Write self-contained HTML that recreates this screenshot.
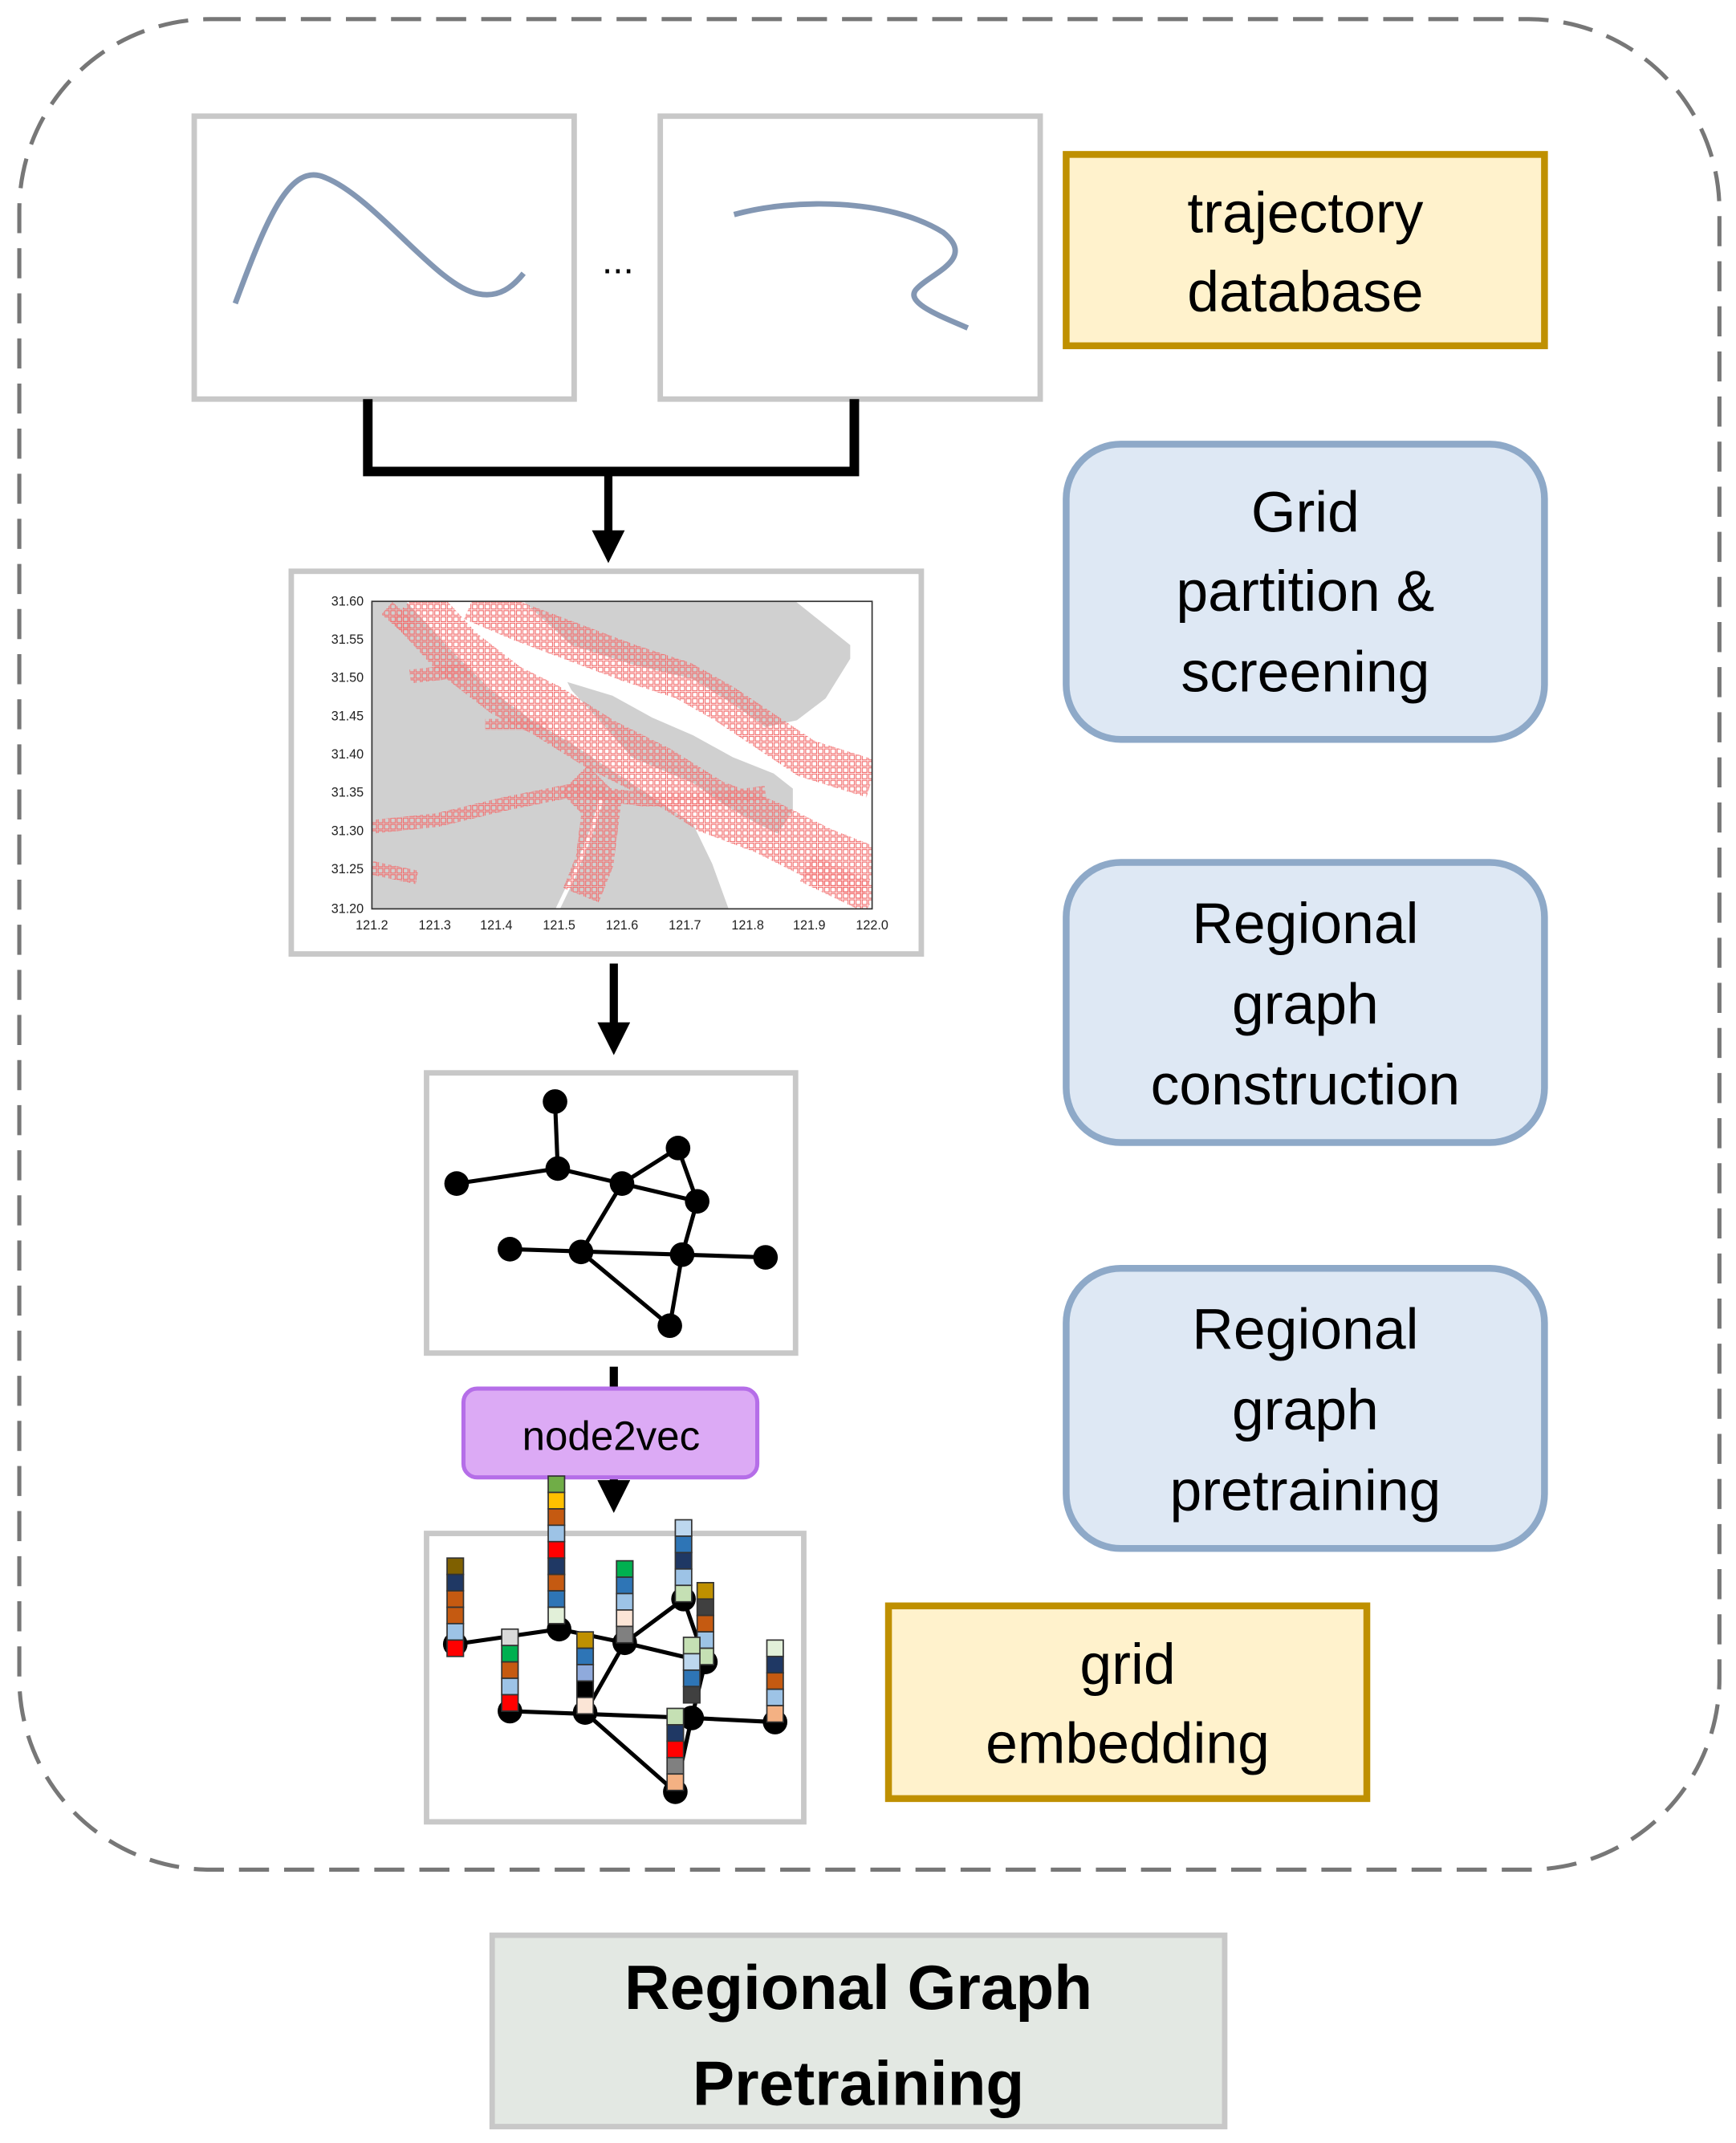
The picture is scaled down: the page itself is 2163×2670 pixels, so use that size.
<!DOCTYPE html>
<html><head><meta charset="utf-8"><style>html,body{margin:0;padding:0;background:#fff}svg{display:block}</style></head><body>
<svg width="2163" height="2670" viewBox="0 0 1270 1568" xmlns="http://www.w3.org/2000/svg" font-family="Liberation Sans, sans-serif">
<defs>
<pattern id="g" width="4.6" height="4.6" patternUnits="userSpaceOnUse"><rect x="0.6" y="0.6" width="3.4" height="3.4" fill="none" stroke="#f27070" stroke-width="0.7"/></pattern>
<marker id="ah" viewBox="0 0 10 10" refX="5" refY="5" markerWidth="4" markerHeight="4" orient="auto"><path d="M0,0 L10,5 L0,10z" fill="#000"/></marker>
<clipPath id="ax"><rect x="272" y="440" width="366" height="225"/></clipPath>
</defs>
<rect x="14" y="14" width="1244" height="1354" rx="140" fill="none" stroke="#777" stroke-width="3" stroke-dasharray="22 11"/>
<rect x="142" y="85" width="278" height="207" fill="#fff" stroke="#c8c8c8" stroke-width="4"/>
<path d="M172,222 C195,160 212,118 238,130 C275,145 320,210 350,215 C365,218 375,210 383,200" fill="none" stroke="#8397b3" stroke-width="4"/>
<text x="452" y="200" font-size="28" text-anchor="middle">...</text>
<rect x="483" y="85" width="278" height="207" fill="#fff" stroke="#c8c8c8" stroke-width="4"/>
<path d="M537,157 C580,145 650,145 690,170 C715,190 680,200 670,212 C662,222 690,232 708,240" fill="none" stroke="#8397b3" stroke-width="4"/>
<rect x="780" y="113" width="350" height="140" fill="#fff2cc" stroke="#bf9000" stroke-width="5"/>
<text x="955" y="170" font-size="42" text-anchor="middle">trajectory</text>
<text x="955" y="228" font-size="42" text-anchor="middle">database</text>
<path d="M269,292 V345 H625 V292" fill="none" stroke="#000" stroke-width="7"/>
<line x1="445" y1="345" x2="445" y2="400" stroke="#000" stroke-width="6" marker-end="url(#ah)"/>
<rect x="213" y="418" width="461" height="280" fill="#fff" stroke="#c8c8c8" stroke-width="4"/>
<g>
<rect x="272" y="440" width="366" height="225" fill="#fff"/>
<g clip-path="url(#ax)">
<polygon points="272,440 297,440 330,476 359,505 389,527 418,544 448,564 477,583 507,603 521,632 533,665 272,665" fill="#d0d0d0"/>
<polygon points="383,440 582,440 622,472 622,482 604,511 583,527 560,532 536,515 507,497 462,486 418,472" fill="#d0d0d0"/>
<polygon points="415,499 448,509 477,525 507,538 536,554 566,566 580,577 580,593 569,610 551,601 530,589 507,573 462,554 442,531 418,505" fill="#d0d0d0"/>
<polyline points="408,665 420,640 432,610 440,585" fill="none" stroke="#fff" stroke-width="3"/>
<g fill="none" stroke="url(#g)" stroke-linecap="butt">
<polyline points="300,440 335,478 370,505 400,520 440,545 480,565 520,590 560,605 600,625 638,640" stroke-width="40"/>
<polyline points="345,440 380,455 420,470 460,485 500,498 530,515 560,535 590,555 638,570" stroke-width="28"/>
<polyline points="272,605 320,600 370,588 420,578 470,585 520,585 560,580" stroke-width="10"/>
<polyline points="420,570 440,590 435,630 425,655" stroke-width="28"/>
<polyline points="272,635 305,642" stroke-width="10"/>
<polyline points="283,445 300,460" stroke-width="12"/>
<polyline points="300,495 345,490" stroke-width="10"/>
<polyline points="355,530 400,530" stroke-width="8"/>
<polyline points="590,635 638,658" stroke-width="22"/>
</g>
</g>
<rect x="272" y="440" width="366" height="225" fill="none" stroke="#333" stroke-width="1"/>
<g font-size="9.5" fill="#222" text-anchor="end">
<text x="266" y="443">31.60</text><text x="266" y="471">31.55</text><text x="266" y="499">31.50</text><text x="266" y="527">31.45</text><text x="266" y="555">31.40</text><text x="266" y="583">31.35</text><text x="266" y="611">31.30</text><text x="266" y="639">31.25</text><text x="266" y="668">31.20</text>
</g>
<g font-size="9.5" fill="#222" text-anchor="middle">
<text x="272" y="680">121.2</text><text x="318" y="680">121.3</text><text x="363" y="680">121.4</text><text x="409" y="680">121.5</text><text x="455" y="680">121.6</text><text x="501" y="680">121.7</text><text x="547" y="680">121.8</text><text x="592" y="680">121.9</text><text x="638" y="680">122.0</text>
</g>
</g>
<rect x="780" y="325" width="350" height="216" rx="40" fill="#dee8f4" stroke="#8ea9c8" stroke-width="5"/>
<text x="955" y="389" font-size="42" text-anchor="middle">Grid</text>
<text x="955" y="447" font-size="42" text-anchor="middle">partition &amp;</text>
<text x="955" y="506" font-size="42" text-anchor="middle">screening</text>
<line x1="449" y1="705" x2="449" y2="760" stroke="#000" stroke-width="6" marker-end="url(#ah)"/>
<rect x="312" y="785" width="270" height="205" fill="#fff" stroke="#c8c8c8" stroke-width="4"/>
<g stroke="#000" stroke-width="3">
<line x1="406" y1="806" x2="408" y2="855"/><line x1="334" y1="866" x2="408" y2="855"/><line x1="408" y1="855" x2="455" y2="866"/><line x1="455" y1="866" x2="496" y2="840"/><line x1="496" y1="840" x2="510" y2="879"/><line x1="455" y1="866" x2="510" y2="879"/><line x1="455" y1="866" x2="425" y2="916"/><line x1="373" y1="914" x2="499" y2="918"/><line x1="499" y1="918" x2="560" y2="920"/><line x1="425" y1="916" x2="490" y2="970"/><line x1="499" y1="918" x2="490" y2="970"/><line x1="510" y1="879" x2="499" y2="918"/>
</g>
<g fill="#000"><circle cx="406" cy="806" r="9"/><circle cx="408" cy="855" r="9"/><circle cx="334" cy="866" r="9"/><circle cx="455" cy="866" r="9"/><circle cx="496" cy="840" r="9"/><circle cx="510" cy="879" r="9"/><circle cx="373" cy="914" r="9"/><circle cx="425" cy="916" r="9"/><circle cx="499" cy="918" r="9"/><circle cx="560" cy="920" r="9"/><circle cx="490" cy="970" r="9"/></g>
<rect x="780" y="631" width="350" height="205" rx="40" fill="#dee8f4" stroke="#8ea9c8" stroke-width="5"/>
<text x="955" y="690" font-size="42" text-anchor="middle">Regional</text>
<text x="955" y="749" font-size="42" text-anchor="middle">graph</text>
<text x="955" y="808" font-size="42" text-anchor="middle">construction</text>
<rect x="312" y="1122" width="276" height="211" fill="#fff" stroke="#c8c8c8" stroke-width="4"/>
<line x1="449" y1="1000" x2="449" y2="1095" stroke="#000" stroke-width="6" marker-end="url(#ah)"/>
<rect x="339" y="1016" width="215" height="65" rx="10" fill="#dcaaf5" stroke="#b56ee8" stroke-width="3"/>
<text x="447" y="1061" font-size="30" text-anchor="middle">node2vec</text>
<g stroke="#000" stroke-width="3">
<line x1="333" y1="1203" x2="409" y2="1192"/><line x1="409" y1="1192" x2="457" y2="1202"/><line x1="457" y1="1202" x2="500" y2="1170"/><line x1="500" y1="1170" x2="516" y2="1216"/><line x1="457" y1="1202" x2="516" y2="1216"/><line x1="457" y1="1202" x2="428" y2="1253"/><line x1="373" y1="1252" x2="506" y2="1257"/><line x1="506" y1="1257" x2="567" y2="1260"/><line x1="428" y1="1253" x2="494" y2="1311"/><line x1="506" y1="1257" x2="494" y2="1311"/><line x1="516" y1="1216" x2="506" y2="1257"/>
</g>
<g fill="#000"><circle cx="333" cy="1203" r="9"/><circle cx="409" cy="1192" r="9"/><circle cx="457" cy="1202" r="9"/><circle cx="500" cy="1170" r="9"/><circle cx="516" cy="1216" r="9"/><circle cx="373" cy="1252" r="9"/><circle cx="428" cy="1253" r="9"/><circle cx="506" cy="1257" r="9"/><circle cx="567" cy="1260" r="9"/><circle cx="494" cy="1311" r="9"/></g>
<g stroke="#333" stroke-width="1">
<g transform="translate(327,1140)"><rect y="0" width="12" height="12" fill="#7f6000"/><rect y="12" width="12" height="12" fill="#1f3864"/><rect y="24" width="12" height="12" fill="#c55a11"/><rect y="36" width="12" height="12" fill="#c55a11"/><rect y="48" width="12" height="12" fill="#9dc3e6"/><rect y="60" width="12" height="12" fill="#ff0000"/></g>
<g transform="translate(401,1080)"><rect y="0" width="12" height="12" fill="#70ad47"/><rect y="12" width="12" height="12" fill="#ffc000"/><rect y="24" width="12" height="12" fill="#c55a11"/><rect y="36" width="12" height="12" fill="#9dc3e6"/><rect y="48" width="12" height="12" fill="#ff0000"/><rect y="60" width="12" height="12" fill="#1f3864"/><rect y="72" width="12" height="12" fill="#c55a11"/><rect y="84" width="12" height="12" fill="#2e75b6"/><rect y="96" width="12" height="12" fill="#e2f0d9"/></g>
<g transform="translate(451,1142)"><rect y="0" width="12" height="12" fill="#00b050"/><rect y="12" width="12" height="12" fill="#2e75b6"/><rect y="24" width="12" height="12" fill="#9dc3e6"/><rect y="36" width="12" height="12" fill="#fbe5d6"/><rect y="48" width="12" height="12" fill="#808080"/></g>
<g transform="translate(494,1112)"><rect y="0" width="12" height="12" fill="#bdd7ee"/><rect y="12" width="12" height="12" fill="#2e75b6"/><rect y="24" width="12" height="12" fill="#1f3864"/><rect y="36" width="12" height="12" fill="#9dc3e6"/><rect y="48" width="12" height="12" fill="#c5e0b4"/></g>
<g transform="translate(510,1158)"><rect y="0" width="12" height="12" fill="#bf9000"/><rect y="12" width="12" height="12" fill="#404040"/><rect y="24" width="12" height="12" fill="#c55a11"/><rect y="36" width="12" height="12" fill="#9dc3e6"/><rect y="48" width="12" height="12" fill="#c5e0b4"/></g>
<g transform="translate(367,1192)"><rect y="0" width="12" height="12" fill="#d9d9d9"/><rect y="12" width="12" height="12" fill="#00b050"/><rect y="24" width="12" height="12" fill="#c55a11"/><rect y="36" width="12" height="12" fill="#9dc3e6"/><rect y="48" width="12" height="12" fill="#ff0000"/></g>
<g transform="translate(422,1194)"><rect y="0" width="12" height="12" fill="#bf9000"/><rect y="12" width="12" height="12" fill="#2e75b6"/><rect y="24" width="12" height="12" fill="#8faadc"/><rect y="36" width="12" height="12" fill="#000"/><rect y="48" width="12" height="12" fill="#fbe5d6"/></g>
<g transform="translate(500,1198)"><rect y="0" width="12" height="12" fill="#c5e0b4"/><rect y="12" width="12" height="12" fill="#bdd7ee"/><rect y="24" width="12" height="12" fill="#2e75b6"/><rect y="36" width="12" height="12" fill="#404040"/></g>
<g transform="translate(561,1200)"><rect y="0" width="12" height="12" fill="#e2f0d9"/><rect y="12" width="12" height="12" fill="#1f3864"/><rect y="24" width="12" height="12" fill="#c55a11"/><rect y="36" width="12" height="12" fill="#9dc3e6"/><rect y="48" width="12" height="12" fill="#f4b183"/></g>
<g transform="translate(488,1250)"><rect y="0" width="12" height="12" fill="#c5e0b4"/><rect y="12" width="12" height="12" fill="#1f3864"/><rect y="24" width="12" height="12" fill="#ff0000"/><rect y="36" width="12" height="12" fill="#808080"/><rect y="48" width="12" height="12" fill="#f4b183"/></g>
</g>
<rect x="780" y="928" width="350" height="205" rx="40" fill="#dee8f4" stroke="#8ea9c8" stroke-width="5"/>
<text x="955" y="987" font-size="42" text-anchor="middle">Regional</text>
<text x="955" y="1046" font-size="42" text-anchor="middle">graph</text>
<text x="955" y="1105" font-size="42" text-anchor="middle">pretraining</text>
<rect x="650" y="1175" width="350" height="141" fill="#fff2cc" stroke="#bf9000" stroke-width="5"/>
<text x="825" y="1232" font-size="42" text-anchor="middle">grid</text>
<text x="825" y="1290" font-size="42" text-anchor="middle">embedding</text>
<rect x="360" y="1416" width="536" height="140" fill="#e3e8e3" stroke="#c8c8c8" stroke-width="4"/>
<text x="628" y="1470" font-size="46" font-weight="bold" text-anchor="middle">Regional Graph</text>
<text x="628" y="1540" font-size="46" font-weight="bold" text-anchor="middle">Pretraining</text>
</svg>
</body></html>
